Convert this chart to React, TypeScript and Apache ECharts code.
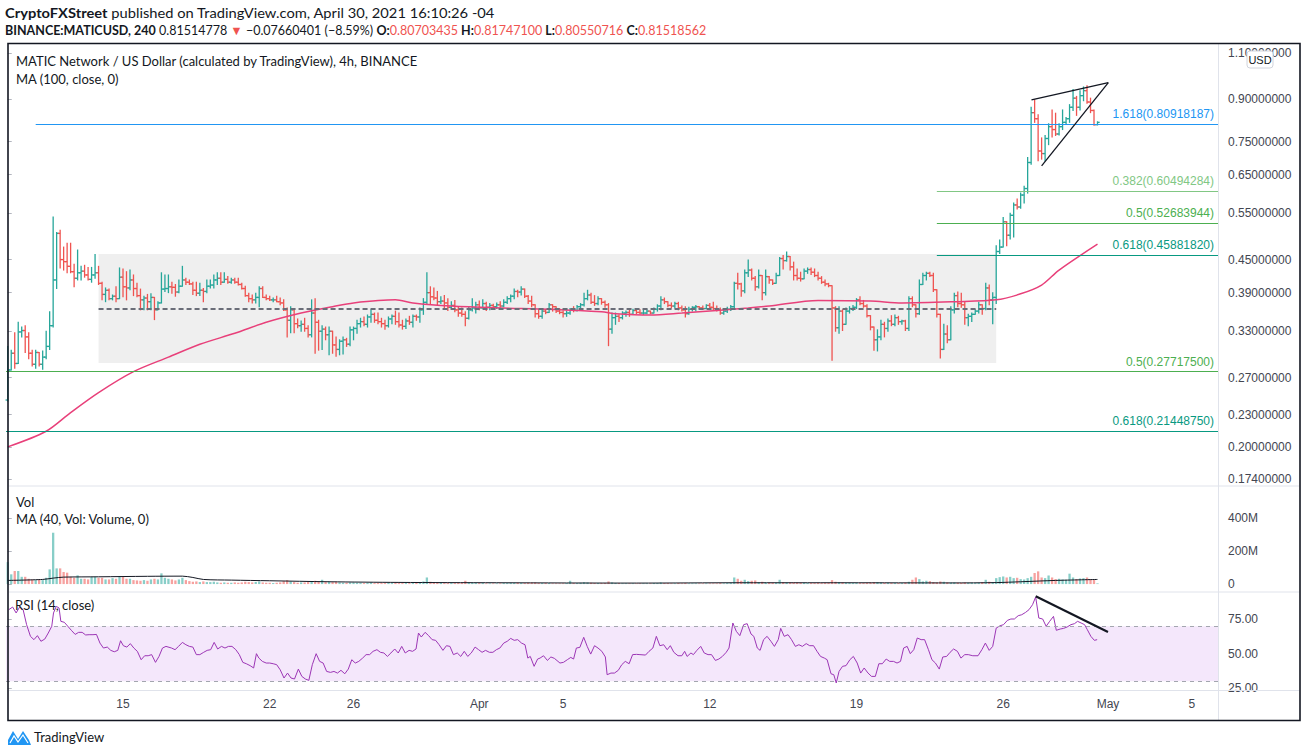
import React, { useEffect, useRef } from 'react';
import * as echarts from 'echarts';

const FONT = '"Liberation Sans", Arial, sans-serif';
const TEXT_FONT = 'Lato, "Liberation Sans", sans-serif';

// ---------- DATA ----------
const firstOpen = 0.245;
const barHigh = [
  0.309,0.304,0.328,0.343,0.336,0.338,0.328,0.304,0.304,0.301,
  0.303,0.330,0.359,0.541,0.506,0.511,0.475,0.483,0.483,0.441,
  0.469,0.437,0.439,0.435,0.435,0.460,0.437,0.408,0.398,0.396,
  0.386,0.400,0.434,0.432,0.427,0.430,0.421,0.406,0.396,0.384,
  0.387,0.388,0.378,0.375,0.425,0.421,0.421,0.408,0.404,0.412,
  0.437,0.415,0.412,0.408,0.408,0.406,0.397,0.412,0.412,0.421,
  0.425,0.425,0.425,0.418,0.415,0.415,0.415,0.406,0.401,0.389,
  0.386,0.389,0.400,0.400,0.386,0.384,0.381,0.384,0.381,0.378,
  0.365,0.367,0.358,0.348,0.345,0.349,0.338,0.378,0.380,0.346,
  0.338,0.336,0.336,0.327,0.322,0.318,0.322,0.320,0.336,0.336,
  0.346,0.349,0.351,0.354,0.362,0.357,0.357,0.349,0.346,0.351,
  0.354,0.360,0.357,0.346,0.348,0.352,0.354,0.354,0.365,0.380,
  0.425,0.400,0.398,0.392,0.383,0.385,0.380,0.375,0.377,0.367,
  0.365,0.359,0.367,0.380,0.374,0.376,0.378,0.374,0.372,0.371,
  0.373,0.375,0.378,0.383,0.386,0.396,0.394,0.400,0.394,0.385,
  0.384,0.370,0.362,0.364,0.362,0.372,0.370,0.366,0.364,0.360,
  0.360,0.364,0.367,0.369,0.372,0.389,0.394,0.389,0.385,0.383,
  0.380,0.376,0.372,0.357,0.357,0.354,0.359,0.360,0.362,0.363,
  0.363,0.362,0.362,0.362,0.360,0.365,0.370,0.383,0.381,0.374,
  0.373,0.374,0.374,0.368,0.367,0.366,0.367,0.369,0.367,0.368,
  0.370,0.372,0.374,0.368,0.365,0.362,0.366,0.369,0.408,0.424,
  0.406,0.430,0.449,0.432,0.418,0.430,0.400,0.430,0.418,0.412,
  0.424,0.454,0.458,0.465,0.449,0.445,0.432,0.426,0.432,0.434,
  0.434,0.432,0.426,0.418,0.412,0.406,0.400,0.367,0.367,0.362,
  0.365,0.367,0.369,0.380,0.383,0.377,0.370,0.350,0.336,0.332,
  0.346,0.343,0.348,0.353,0.354,0.352,0.346,0.346,0.383,0.383,
  0.367,0.412,0.424,0.426,0.426,0.424,0.392,0.351,0.340,0.338,
  0.367,0.389,0.391,0.389,0.375,0.355,0.357,0.362,0.374,0.367,
  0.406,0.403,0.390,0.478,0.490,0.540,0.522,0.550,0.575,0.585,
  0.600,0.618,0.700,0.870,0.898,0.842,0.762,0.770,0.810,0.860,
  0.848,0.810,0.860,0.832,0.880,0.940,0.912,0.935,0.950,0.955,
  0.905,0.860,0.817,
];
const barLow = [
  0.244,0.281,0.281,0.287,0.322,0.301,0.293,0.284,0.281,0.284,
  0.280,0.293,0.305,0.336,0.397,0.434,0.430,0.425,0.425,0.400,
  0.412,0.412,0.417,0.412,0.408,0.415,0.404,0.378,0.375,0.378,
  0.378,0.375,0.380,0.383,0.378,0.395,0.385,0.383,0.362,0.362,
  0.362,0.362,0.347,0.362,0.373,0.392,0.390,0.389,0.384,0.390,
  0.401,0.404,0.404,0.387,0.385,0.385,0.375,0.390,0.398,0.398,
  0.404,0.404,0.408,0.406,0.406,0.406,0.403,0.396,0.384,0.375,
  0.373,0.373,0.367,0.382,0.378,0.377,0.375,0.375,0.370,0.361,
  0.322,0.328,0.328,0.335,0.330,0.330,0.322,0.322,0.300,0.304,
  0.305,0.318,0.298,0.300,0.296,0.298,0.299,0.309,0.310,0.318,
  0.327,0.336,0.338,0.336,0.343,0.343,0.341,0.336,0.333,0.336,
  0.341,0.340,0.336,0.333,0.334,0.340,0.336,0.346,0.343,0.355,
  0.372,0.372,0.378,0.370,0.372,0.363,0.361,0.365,0.359,0.352,
  0.352,0.338,0.348,0.360,0.357,0.362,0.366,0.361,0.362,0.365,
  0.364,0.366,0.367,0.372,0.375,0.380,0.383,0.386,0.382,0.372,
  0.367,0.351,0.349,0.349,0.356,0.358,0.360,0.358,0.356,0.351,
  0.352,0.355,0.359,0.360,0.364,0.368,0.378,0.372,0.369,0.370,
  0.371,0.366,0.310,0.327,0.340,0.344,0.348,0.352,0.352,0.355,
  0.356,0.356,0.355,0.356,0.356,0.357,0.360,0.362,0.372,0.367,
  0.365,0.365,0.362,0.360,0.351,0.355,0.360,0.360,0.364,0.363,
  0.364,0.364,0.362,0.360,0.355,0.355,0.358,0.361,0.364,0.396,
  0.384,0.390,0.418,0.412,0.394,0.398,0.378,0.386,0.406,0.404,
  0.410,0.422,0.432,0.447,0.430,0.412,0.412,0.410,0.418,0.424,
  0.422,0.418,0.412,0.406,0.402,0.400,0.291,0.330,0.327,0.331,
  0.348,0.357,0.361,0.364,0.370,0.366,0.351,0.332,0.304,0.303,
  0.318,0.322,0.330,0.338,0.338,0.340,0.340,0.331,0.331,0.367,
  0.351,0.355,0.406,0.412,0.418,0.392,0.351,0.294,0.306,0.314,
  0.336,0.357,0.367,0.366,0.340,0.338,0.344,0.355,0.357,0.355,
  0.362,0.370,0.341,0.372,0.462,0.484,0.478,0.492,0.496,0.560,
  0.562,0.575,0.600,0.680,0.815,0.690,0.695,0.690,0.740,0.765,
  0.770,0.772,0.790,0.810,0.815,0.858,0.840,0.860,0.895,0.885,
  0.850,0.805,0.806,
];
const barClose = [
  0.279,0.300,0.287,0.329,0.331,0.322,0.300,0.286,0.301,0.286,
  0.295,0.309,0.338,0.412,0.504,0.450,0.446,0.437,0.427,0.415,
  0.425,0.428,0.421,0.413,0.421,0.425,0.406,0.387,0.394,0.380,
  0.384,0.380,0.417,0.400,0.398,0.412,0.397,0.385,0.378,0.381,
  0.375,0.382,0.362,0.373,0.396,0.397,0.400,0.399,0.391,0.401,
  0.412,0.408,0.405,0.394,0.389,0.394,0.392,0.401,0.403,0.412,
  0.415,0.408,0.413,0.408,0.412,0.408,0.404,0.397,0.385,0.380,
  0.378,0.382,0.397,0.382,0.380,0.378,0.378,0.375,0.373,0.362,
  0.346,0.362,0.341,0.338,0.340,0.334,0.325,0.357,0.343,0.330,
  0.333,0.325,0.330,0.311,0.305,0.316,0.318,0.312,0.332,0.334,
  0.341,0.344,0.340,0.351,0.355,0.346,0.344,0.341,0.338,0.348,
  0.352,0.344,0.339,0.337,0.345,0.343,0.352,0.351,0.362,0.374,
  0.390,0.383,0.381,0.375,0.376,0.373,0.366,0.369,0.362,0.357,
  0.355,0.349,0.362,0.365,0.370,0.365,0.372,0.366,0.369,0.367,
  0.370,0.368,0.374,0.380,0.384,0.392,0.391,0.396,0.384,0.376,
  0.370,0.356,0.352,0.360,0.358,0.370,0.367,0.360,0.358,0.356,
  0.357,0.362,0.361,0.367,0.370,0.380,0.386,0.374,0.372,0.380,
  0.374,0.370,0.333,0.350,0.352,0.350,0.357,0.358,0.355,0.361,
  0.358,0.357,0.357,0.360,0.357,0.363,0.368,0.378,0.375,0.369,
  0.368,0.372,0.365,0.362,0.356,0.363,0.366,0.367,0.365,0.364,
  0.369,0.366,0.364,0.362,0.357,0.360,0.363,0.367,0.406,0.405,
  0.393,0.425,0.430,0.415,0.400,0.420,0.390,0.418,0.412,0.406,
  0.420,0.452,0.448,0.456,0.436,0.420,0.415,0.414,0.428,0.431,
  0.426,0.420,0.415,0.408,0.405,0.402,0.365,0.335,0.360,0.340,
  0.360,0.364,0.366,0.378,0.372,0.368,0.353,0.336,0.318,0.322,
  0.340,0.334,0.345,0.340,0.350,0.344,0.345,0.334,0.380,0.370,
  0.356,0.404,0.420,0.424,0.420,0.395,0.355,0.305,0.326,0.318,
  0.362,0.385,0.372,0.370,0.350,0.352,0.355,0.360,0.370,0.364,
  0.398,0.378,0.382,0.466,0.475,0.530,0.500,0.545,0.570,0.565,
  0.595,0.612,0.685,0.850,0.828,0.720,0.712,0.760,0.800,0.790,
  0.775,0.800,0.815,0.828,0.870,0.905,0.870,0.915,0.935,0.890,
  0.858,0.807,0.815,
];
// volume in millions
const volumeM = [
  133,59,79,79,44,44,32,28,24,28, 24,38,89,311,95,95,73,69,44,38,
  53,32,32,28,44,44,38,38,28,28, 36,32,48,44,32,32,24,22,20,24,
  20,28,32,28,65,38,32,28,22,28, 38,24,18,14,16,12,16,12,12,14,
  10,8,10,8,8,10,8,10,14,12, 10,12,16,10,8,8,6,8,10,18,
  24,16,12,8,10,10,12,18,20,14, 26,12,16,12,14,10,8,8,10,10,
  8,8,6,8,10,6,6,6,6,8, 6,8,6,6,6,6,6,8,12,16,
  40,14,10,8,8,6,6,6,6,8, 8,20,10,8,6,6,6,4,4,4,
  4,4,6,6,8,8,8,6,6,8, 10,10,6,6,6,6,4,4,4,4,
  6,20,6,6,8,12,10,8,6,6, 6,6,16,10,6,6,4,4,4,4,
  4,4,4,4,4,6,6,10,6,6, 4,4,6,4,6,4,4,4,4,4,
  4,4,4,4,6,4,6,8,40,32, 20,26,18,20,22,12,14,10,10,8,
  8,26,12,10,10,12,10,8,8,6, 6,6,8,6,8,8,24,14,12,10,
  8,8,6,6,6,6,8,10,12,12, 10,8,8,6,6,6,6,8,14,26,
  40,30,16,20,18,12,10,16,14,10, 10,10,8,8,10,8,8,6,8,12,
  26,14,12,36,42,46,40,44,36,38, 30,28,36,44,67,77,40,36,52,40,
  30,32,28,26,63,40,30,34,36,40, 30,26,4,
];
// MA(100, close) read at bar indices
const maPoints = [
  [0,0.200],[11,0.214],[18,0.232],[26,0.253],[36,0.277],[46,0.295],[55,0.312],[65,0.327],
  [74,0.343],[84,0.357],[93,0.367],[99,0.373],[111,0.378],[116,0.373],[127,0.368],[141,0.365],
  [155,0.363],[170,0.359],[174,0.356],[184,0.354],[193,0.357],[203,0.361],[212,0.365],[218,0.368],
  [232,0.377],[247,0.376],[256,0.373],[271,0.375],[283,0.378],[290,0.388],[296,0.403],[301,0.430],[312,0.481],
];
// MA(40) of volume, millions
const volMaPoints = [
  [0,22],[10,28],[13,36],[16,42],[26,44],[40,47],[50,48],[53,40],[56,28],[64,24],[75,20],
  [92,14],[112,10],[140,8],[180,6],[210,8],[240,8],[270,7],[283,9],[290,14],[300,22],[312,28],
];
// RSI(14) read at bar positions
const rsiPoints = [
  [0.3,82.1],[1.4,84.0],[2.4,79.7],[3.4,84.0],[4.4,82.1],[5.4,71.2],[6.5,62.7],[7.5,60.3],[8.5,63.2],[9.5,59.1],
  [10.6,60.7],[11.6,65.1],[12.6,70.0],[13.1,79.7],[13.9,84.5],[14.7,83.3],[15.2,73.6],[16.2,72.9],[17.2,70.0],[18.2,67.1],
  [19.3,64.1],[20.3,65.6],[21.3,65.6],[22.3,63.7],[23.3,63.9],[24.4,63.9],[25.4,64.1],[26.4,57.8],[27.4,54.2],[28.5,54.9],
  [29.5,52.5],[30.5,51.5],[31.5,52.5],[32.3,59.5],[33.1,55.9],[34.1,54.9],[35.1,57.4],[36.1,54.2],[37.1,51.8],[38.2,45.7],
  [39.2,48.6],[40.2,48.6],[41.2,49.4],[42.3,43.8],[43.3,48.1],[44.3,54.2],[45.3,55.4],[46.9,54.2],[47.9,53.0],[48.9,55.4],
  [50.0,58.3],[51.0,56.6],[52.0,55.4],[53.0,54.9],[54.0,49.4],[55.0,49.4],[56.1,51.1],[57.1,52.5],[58.1,53.0],[59.1,58.3],
  [60.1,53.5],[61.2,55.4],[62.2,54.2],[63.2,55.4],[64.2,55.4],[65.3,53.0],[66.3,49.4],[67.3,43.8],[68.3,42.8],[69.4,41.4],
  [70.4,39.7],[71.2,50.1],[71.9,46.9],[72.9,44.5],[74.0,43.3],[75.0,43.3],[76.0,42.8],[77.0,42.1],[78.0,38.4],[79.1,32.4],
  [80.1,36.0],[81.1,32.4],[82.1,31.7],[83.2,38.9],[84.2,33.6],[85.2,31.7],[86.2,30.7],[87.2,42.1],[88.3,50.1],[89.3,44.5],
  [90.3,43.3],[91.3,37.2],[92.4,36.5],[93.4,37.2],[94.4,36.0],[95.4,38.0],[96.5,35.5],[97.5,38.9],[98.5,45.7],[99.5,43.3],
  [100.5,44.5],[101.6,46.9],[102.6,49.4],[103.6,49.4],[104.6,51.8],[105.7,53.0],[106.7,51.1],[107.7,50.6],[108.7,48.1],[109.7,50.6],
  [110.8,53.5],[111.8,50.6],[112.8,55.4],[113.8,50.6],[114.9,52.5],[115.9,51.8],[116.9,53.5],[117.6,65.1],[118.4,62.2],[119.5,65.6],
  [120.5,63.2],[121.5,60.3],[122.5,59.8],[123.5,56.6],[124.6,52.5],[125.6,55.9],[126.6,55.4],[127.6,49.4],[128.7,50.6],[129.7,48.1],
  [130.7,51.8],[131.7,48.1],[132.7,50.6],[133.8,54.9],[134.8,53.0],[135.8,51.1],[136.8,52.5],[137.9,51.1],[138.9,51.1],[139.9,53.0],
  [140.9,54.2],[142.0,57.8],[143.0,59.1],[144.0,61.2],[145.0,59.8],[146.0,60.3],[147.1,57.8],[148.1,56.6],[148.9,46.9],[149.6,48.1],
  [150.7,40.9],[151.7,46.2],[152.4,46.9],[153.4,48.6],[154.5,45.2],[155.5,47.7],[156.5,46.7],[158.1,43.3],[159.1,43.8],[160.2,45.7],
  [161.2,47.4],[162.0,46.2],[162.8,54.2],[163.8,54.7],[164.9,62.0],[165.9,55.4],[166.9,49.8],[168.0,55.9],[169.0,54.2],[170.1,51.8],
  [171.1,47.7],[171.6,34.8],[172.7,36.0],[173.7,36.0],[174.8,38.0],[175.8,42.1],[176.8,44.5],[177.9,42.8],[178.9,49.4],[180.0,49.6],
  [181.0,49.4],[182.6,49.1],[183.6,51.8],[184.7,54.2],[185.7,62.7],[186.7,55.9],[187.8,56.6],[188.8,53.0],[189.7,55.9],[190.7,51.1],
  [191.9,48.6],[193.0,48.6],[193.8,51.8],[194.5,48.1],[195.6,50.6],[196.3,49.4],[197.3,52.5],[198.4,55.4],[199.4,50.6],[200.5,49.4],
  [201.5,49.4],[202.6,45.2],[203.6,46.2],[204.6,48.1],[205.7,51.1],[206.5,54.2],[207.6,72.4],[208.6,66.3],[209.6,63.2],[210.7,71.2],
  [211.7,71.9],[212.8,64.4],[213.6,62.7],[214.6,54.2],[215.4,52.5],[216.4,60.3],[217.4,62.7],[218.5,59.1],[219.5,55.4],[220.6,60.3],
  [221.3,68.5],[222.3,62.7],[223.4,63.9],[224.4,60.3],[225.5,55.4],[226.5,56.6],[227.5,55.4],[228.6,57.4],[229.6,55.9],[230.7,55.9],
  [231.7,51.8],[232.7,48.1],[233.8,46.9],[234.6,45.7],[235.7,35.5],[236.5,34.8],[237.2,28.8],[238.0,37.2],[239.0,40.9],[240.0,41.4],
  [241.1,45.7],[242.1,48.1],[243.2,43.3],[244.2,36.0],[245.2,39.7],[246.3,36.0],[247.3,33.6],[248.4,33.6],[249.4,42.8],[250.4,42.8],
  [251.5,46.2],[252.5,44.5],[253.6,44.5],[254.6,43.3],[255.6,44.5],[256.5,54.2],[257.5,55.4],[258.4,50.1],[259.4,53.0],[260.4,61.5],
  [261.5,60.3],[262.5,60.3],[263.6,53.0],[264.6,45.7],[265.6,43.3],[266.7,38.9],[267.7,47.7],[268.8,48.1],[269.8,51.1],[270.8,53.5],
  [271.9,51.8],[272.9,46.9],[274.0,49.4],[275.0,49.4],[276.3,48.6],[277.8,48.6],[278.9,53.0],[279.9,57.8],[281.0,52.5],[282.0,55.4],
  [283.0,68.7],[284.1,70.4],[285.1,71.2],[286.2,74.3],[287.2,75.3],[288.2,75.3],[289.3,77.7],[290.3,78.4],[291.4,80.1],[292.4,82.1],
  [293.4,85.7],[294.3,91.3],[295.2,76.0],[296.3,75.3],[297.3,70.0],[298.3,73.6],[299.4,77.2],[300.2,67.1],[301.3,68.0],[302.3,68.5],
  [303.3,69.5],[304.4,71.2],[305.4,71.9],[306.3,73.6],[307.3,72.4],[308.3,71.2],[309.1,67.5],[310.1,62.7],[311.1,59.8],[311.9,60.3],
];
const priceTicks = [0.174, 0.2, 0.23, 0.27, 0.33, 0.39, 0.45, 0.55, 0.65, 0.75, 0.9, 1.1];
const volTicksM = [0, 200, 400];
const rsiTicks = [25, 50, 75];
const dayTickIdx = [33, 75, 99, 135, 159, 201, 243, 285, 315, 339];
const dayTickLabels = ['15', '22', '26', 'Apr', '5', '12', '19', '26', 'May', '5'];
// Fibonacci levels drawn on the chart
const fibRatios = ['1.618', '0.382', '0.5', '0.618', '0.5', '0.618'];
const fibValues = [0.80918187, 0.60494284, 0.52683944, 0.4588182, 0.277175, 0.2144875];
const fibStartIdx = [8, 266, 266, 266, -0.5, -0.5];
// consolidation box, its midline, wedge, RSI trend line
const boxRange = { from: 26, to: 283, top: 0.461, bottom: 0.2876, mid: 0.363 };
const wedgeUpper = [[293.1, 0.898], [315.1, 0.968]];
const wedgeLower = [[296, 0.675], [315.1, 0.968]];
const rsiTrend = [[294.3, 91.8], [315, 65.9]];
const rsiBand = [30, 70];

const FIB_COLORS = ['#2196f3', '#81c784', '#4caf50', '#089981', '#4caf50', '#089981'];
const UP = '#26a69a';
const DOWN = '#ef5350';

function buildOption() {
  const n = barClose.length;
  const ohlc: number[][] = [];
  let prev = firstOpen;
  for (let i = 0; i < n; i++) {
    const o = prev;
    const c = barClose[i];
    ohlc.push([i, o, Math.max(barHigh[i], o, c), Math.min(barLow[i], o, c), c]);
    prev = c;
  }
  const volData = volumeM.map((v, i) => ({
    value: [i, v * 1e6],
    itemStyle: { color: ohlc[i][4] >= ohlc[i][1] ? 'rgba(38,166,154,0.55)' : 'rgba(239,83,80,0.55)' },
  }));

  const XMAX = 346.5;
  const xBase = {
    type: 'value', min: -0.5, max: XMAX,
    axisLine: { show: false }, axisTick: { show: false }, splitLine: { show: false },
  };
  const labelStyle = { color: '#434651', fontSize: 12, fontFamily: FONT };
  const tickStyle = { show: true, length: 4, lineStyle: { color: '#b2b5be' } };

  const fibLines = fibValues.map((v, k) => [
    {
      coord: [fibStartIdx[k], v],
      lineStyle: { color: FIB_COLORS[k], width: 1, type: 'solid' },
      label: {
        show: true, position: 'insideEndTop', formatter: fibRatios[k] + '(' + v.toFixed(8) + ')',
        color: FIB_COLORS[k], fontSize: 12, fontFamily: FONT, distance: 4,
      },
    },
    { coord: [XMAX, v] },
  ]);
  const black = { color: '#131722', width: 1.3, type: 'solid' };
  const drawLines = [
    ...fibLines,
    [
      { coord: [boxRange.from, boxRange.mid], lineStyle: { color: '#6a6d78', width: 2, type: [5, 3] }, label: { show: false } },
      { coord: [boxRange.to, boxRange.mid] },
    ],
    [{ coord: wedgeUpper[0], lineStyle: black, label: { show: false } }, { coord: wedgeUpper[1] }],
    [{ coord: wedgeLower[0], lineStyle: black, label: { show: false } }, { coord: wedgeLower[1] }],
  ];

  const txt = (x: number, y: number, text: string, size: number, extra: any = {}, sx = 1) => ({
    type: 'text', x, y, z: 60, silent: true, scaleX: sx,
    style: { text, fill: '#131722', fontSize: size, fontFamily: TEXT_FONT, verticalAlign: 'middle', align: 'left', ...extra },
  });
  const sep = (x1: number, y1: number, x2: number, y2: number) => ({
    type: 'line', z: 40, silent: true, shape: { x1, y1, x2, y2 }, style: { stroke: '#e0e3eb', lineWidth: 1 },
  });
  const rb = (size: number) => ({ fontWeight: 'bold', fontSize: size, fontFamily: TEXT_FONT, fill: '#131722', color: '#131722' });
  const rr = (size: number) => ({ fontSize: size, fontFamily: TEXT_FONT, fill: DOWN, color: DOWN });

  return {
    animation: false,
    backgroundColor: '#ffffff',
    textStyle: { fontFamily: FONT },
    grid: [
      { left: 6, right: 89, top: 44, height: 441, outerBoundsMode: 'none' },
      { left: 6, right: 89, top: 487, height: 104, outerBoundsMode: 'none' },
      { left: 6, right: 89, top: 593, height: 97, outerBoundsMode: 'none' },
    ],
    xAxis: [
      { ...xBase, gridIndex: 0, axisLabel: { show: false } },
      { ...xBase, gridIndex: 1, axisLabel: { show: false } },
      {
        ...xBase, gridIndex: 2,
        axisLabel: {
          show: true, customValues: dayTickIdx, margin: 8, ...labelStyle,
          formatter: (v: number) => {
            const k = dayTickIdx.indexOf(Math.round(v));
            return k >= 0 ? dayTickLabels[k] : '';
          },
        },
      },
    ],
    yAxis: [
      {
        type: 'log', logBase: 10, gridIndex: 0, position: 'right', min: 0.1696, max: 1.1441,
        axisLine: { show: false }, splitLine: { show: false },
        axisTick: { ...tickStyle, customValues: priceTicks },
        axisLabel: { customValues: priceTicks, margin: 10, ...labelStyle, formatter: (v: number) => Number(v).toFixed(8) },
      },
      {
        type: 'value', gridIndex: 1, position: 'right', min: -42e6, max: 588e6,
        axisLine: { show: false }, splitLine: { show: false },
        axisTick: { ...tickStyle, customValues: volTicksM.map((v) => v * 1e6) },
        axisLabel: {
          customValues: volTicksM.map((v) => v * 1e6), margin: 10, ...labelStyle,
          formatter: (v: number) => (v === 0 ? '0' : Math.round(v / 1e6) + 'M'),
        },
      },
      {
        type: 'value', gridIndex: 2, position: 'right', min: 23.7, max: 94.2,
        axisLine: { show: false }, splitLine: { show: false },
        axisTick: { ...tickStyle, customValues: rsiTicks },
        axisLabel: { customValues: rsiTicks, margin: 10, ...labelStyle, formatter: (v: number) => Number(v).toFixed(2) },
      },
    ],
    series: [
      {
        type: 'custom', name: 'MATICUSD', xAxisIndex: 0, yAxisIndex: 0, z: 3, silent: true,
        data: ohlc, encode: { x: 0, y: [1, 2, 3, 4] },
        renderItem: (params: any, api: any) => {
          const i = api.value(0);
          const o = api.value(1), h = api.value(2), l = api.value(3), c = api.value(4);
          const pH = api.coord([i, h]);
          const pL = api.coord([i, l]);
          const pO = api.coord([i, o]);
          const pC = api.coord([i, c]);
          const col = c >= o ? UP : DOWN;
          const x = pH[0];
          const st = { stroke: col, lineWidth: 1.3 };
          return {
            type: 'group',
            children: [
              { type: 'line', shape: { x1: x, y1: pH[1] - 0.5, x2: x, y2: pL[1] + 0.5 }, style: st },
              { type: 'line', shape: { x1: x - 2.2, y1: pO[1], x2: x, y2: pO[1] }, style: st },
              { type: 'line', shape: { x1: x, y1: pC[1], x2: x + 2.2, y2: pC[1] }, style: st },
            ],
          };
        },
      },
      {
        type: 'line', name: 'MA100', xAxisIndex: 0, yAxisIndex: 0, z: 4, silent: true,
        data: maPoints, smooth: 0.3, showSymbol: false, symbol: 'none',
        lineStyle: { color: '#e8407a', width: 1.5 },
        markArea: {
          silent: true, label: { show: false },
          itemStyle: { color: '#efefef' },
          data: [[{ coord: [boxRange.from, boxRange.top] }, { coord: [boxRange.to, boxRange.bottom] }]],
        },
        markLine: { silent: true, symbol: ['none', 'none'], data: drawLines },
      },
      {
        type: 'bar', name: 'Vol', xAxisIndex: 1, yAxisIndex: 1, barWidth: 2.3, silent: true,
        data: volData,
      },
      {
        type: 'line', name: 'VolMA', xAxisIndex: 1, yAxisIndex: 1, silent: true, z: 4,
        data: volMaPoints.map((p) => [p[0], p[1] * 1e6]), smooth: 0.3, showSymbol: false, symbol: 'none',
        lineStyle: { color: '#131722', width: 1 },
      },
      {
        type: 'line', name: 'RSI', xAxisIndex: 2, yAxisIndex: 2, silent: true, z: 4,
        data: rsiPoints, showSymbol: false, symbol: 'none',
        lineStyle: { color: '#9c36b5', width: 1 },
        markArea: {
          silent: true, label: { show: false }, itemStyle: { color: '#f4e7fb' },
          data: [[{ yAxis: rsiBand[1] }, { yAxis: rsiBand[0] }]],
        },
        markLine: {
          silent: true, symbol: ['none', 'none'], label: { show: false },
          data: [
            { yAxis: rsiBand[1], lineStyle: { color: '#a3a6af', width: 1, type: [4, 4] } },
            { yAxis: rsiBand[0], lineStyle: { color: '#a3a6af', width: 1, type: [4, 4] } },
            [{ coord: rsiTrend[0], lineStyle: { color: '#131722', width: 2.2, type: 'solid' } }, { coord: rsiTrend[1] }],
          ],
        },
      },
    ],
    graphic: [
      sep(9, 486, 1299, 486),
      sep(9, 592, 1299, 592),
      sep(9, 690.5, 1299, 690.5),
      sep(1218.5, 44, 1218.5, 720),
      {
        type: 'rect', z: 70, silent: true, shape: { x: 8, y: 43.5, width: 1292, height: 677 },
        style: { fill: 'none', stroke: '#131722', lineWidth: 1.6 },
      },
      txt(5, 13, '{b|CryptoFXStreet} published on TradingView.com, April 30, 2021 16:10:26 -04', 14, { rich: { b: rb(14) } }, 1.05),
      txt(5, 30,
        '{b|BINANCE:MATICUSD, 240} 0.81514778 {r|▼} −0.07660401 (−8.59%) {b|O:}{r|0.80703435} {b|H:}{r|0.81747100} {b|L:}{r|0.80550716} {b|C:}{r|0.81518562}',
        12.5, { rich: { b: rb(12.5), r: rr(12.5) } }),
      txt(16, 61, 'MATIC Network / US Dollar (calculated by TradingView), 4h, BINANCE', 13),
      txt(16, 79, 'MA (100, close, 0)', 13),
      txt(16, 502, 'Vol', 13),
      txt(16, 519, 'MA (40, Vol: Volume, 0)', 13),
      txt(15, 605, 'RSI (14, close)', 13),
      {
        type: 'rect', z: 80, silent: true, shape: { x: 1247, y: 51, width: 26, height: 17, r: 3 },
        style: { fill: '#ffffff', stroke: '#d1d4dc', lineWidth: 1 },
      },
      {
        type: 'text', z: 81, x: 1260, y: 60, silent: true,
        style: { text: 'USD', fill: '#131722', fontSize: 11, fontFamily: FONT, align: 'center', verticalAlign: 'middle' },
      },
      {
        type: 'polygon', z: 60, silent: true,
        shape: { points: [[8, 745], [8, 740], [13, 731], [18, 739], [23, 731], [29, 740], [31, 745]] },
        style: { fill: '#2196f3' },
      },
      {
        type: 'polyline', z: 61, silent: true,
        shape: { points: [[10, 743], [14, 736], [18, 742], [23, 735], [28, 743]] },
        style: { stroke: '#ffffff', lineWidth: 1.2, fill: 'none' },
      },
      txt(34, 737, 'TradingView', 13),
    ],
  };
}

export default function App() {
  const ref = useRef<HTMLDivElement>(null);
  useEffect(() => {
    if (!ref.current) return;
    const chart = echarts.init(ref.current, null, { renderer: 'svg' });
    chart.setOption(buildOption() as any);
    return () => chart.dispose();
  }, []);
  return (
    <div
      ref={ref}
      style={{ position: 'absolute', left: 0, top: 0, width: 1307, height: 755, background: '#ffffff' }}
    />
  );
}
